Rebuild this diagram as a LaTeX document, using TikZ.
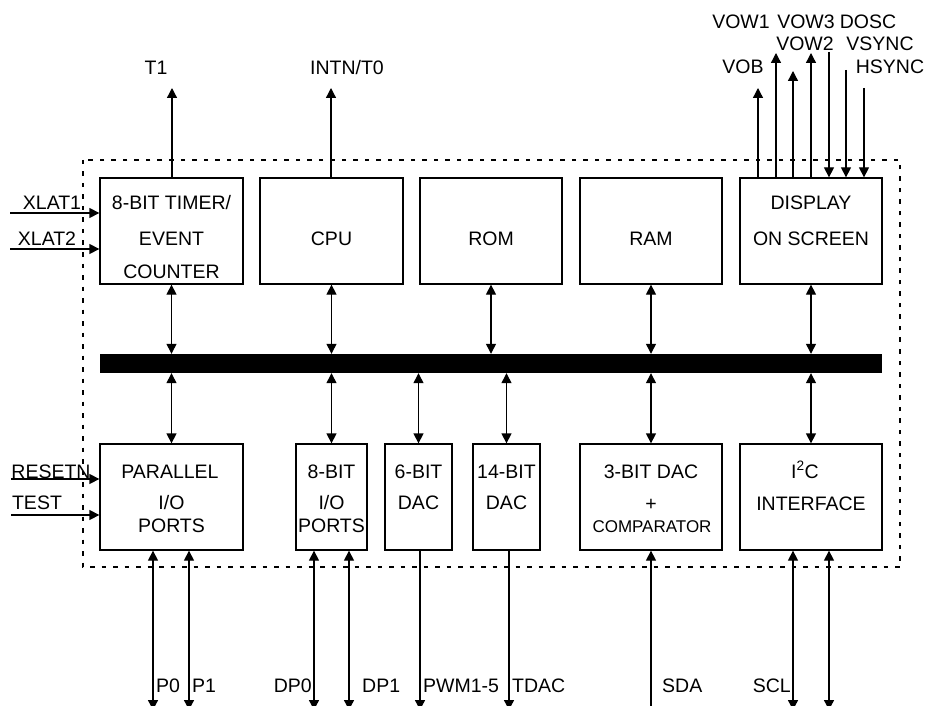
\documentclass[tikz,border=0pt]{standalone}
\usepackage{fontspec}
\setmainfont{Liberation Sans}
\usetikzlibrary{arrows.meta}
\tikzset{
	blk/.style = {draw, line width=1.3pt, inner sep=0pt, minimum height=106pt},
	txt/.style = {font=\fontsize{19.5}{22}\selectfont, inner sep=0pt, text height=14pt, text depth=0pt},
	sml/.style = {font=\fontsize{17}{20}\selectfont, inner sep=0pt, text height=12pt, text depth=0pt},
	arr/.style = {line width=1.3pt, -{Triangle[length=10pt,width=10pt]}},
	darr/.style = {line width=1.3pt, {Triangle[length=10pt,width=10pt]}-{Triangle[length=10pt,width=10pt]}},
	frame/.style = {line width=2pt, dash pattern=on 4.5pt off 7pt}
}

\begin{document}
\begin{tikzpicture}[x=1pt, y=-1pt]
	\useasboundingbox (0,0) rectangle (930,706);
	\draw[frame] (83,160) rectangle (900,567);
	% top row of blocks
	\node[blk, minimum width=143pt] (tmr) at (171.5,231) {};
	\node[blk, minimum width=143pt] (cpu) at (331.5,231) {};
	\node[blk, minimum width=142pt] (rom) at (491,231) {};
	\node[blk, minimum width=142pt] (ram) at (651,231) {};
	\node[blk, minimum width=142pt] (dsp) at (811,231) {};
	% bus
	\node[fill=black, inner sep=0pt, minimum width=782pt, minimum height=19pt] (bus) at (491,363.5) {};
	% bottom row of blocks
	\node[blk, minimum width=143pt] (par) at (171.5,497) {};
	\node[blk, minimum width=71pt] (iop) at (331.5,497) {};
	\node[blk, minimum width=67pt] (dsa) at (418.5,497) {};
	\node[blk, minimum width=67pt] (dsb) at (506.5,497) {};
	\node[blk, minimum width=142pt] (cmp) at (651,497) {};
	\node[blk, minimum width=142pt] (iic) at (811,497) {};
	% block texts
	\node[txt] (tmrA) at (171.5,203) {8-BIT TIMER/};
	\node[txt] (tmrB) at (171.5,238) {EVENT};
	\node[txt] (tmrC) at (171.5,271) {COUNTER};
	\node[txt] (cpuA) at (331.5,238) {CPU};
	\node[txt] (romA) at (491,238) {ROM};
	\node[txt] (ramA) at (651,238) {RAM};
	\node[txt] (dspA) at (811,203) {DISPLAY};
	\node[txt] (dspB) at (811,238) {ON SCREEN};
	\node[txt] (parA) at (170,471) {PARALLEL};
	\node[txt] (parB) at (171.5,502) {I/O};
	\node[txt] (parC) at (171.5,525) {PORTS};
	\node[txt] (iopA) at (331.5,471) {8-BIT};
	\node[txt] (iopB) at (331.5,502) {I/O};
	\node[txt] (iopC) at (331.5,525) {PORTS};
	\node[txt] (dsaA) at (418.5,471) {6-BIT};
	\node[txt] (dsaB) at (418.5,502) {DAC};
	\node[txt] (dsbA) at (506.5,471) {14-BIT};
	\node[txt] (dsbB) at (506.5,502) {DAC};
	\node[txt] (cmpA) at (651,471) {3-BIT DAC};
	\node[txt] (cmpB) at (651,503) {+};
	\node[sml] (cmpC) at (652,526) {COMPARATOR};
	\node[txt] (iicA) at (805,471) {I\textsuperscript{2}C};
	\node[txt] (iicB) at (811,503) {INTERFACE};
	% bus links
	\foreach \b in {tmr,cpu,rom,ram,dsp}
		\draw[darr] (\b.south) -- (\b.south |- bus.north);
	\foreach \b in {par,iop,dsa,dsb,cmp,iic}
		\draw[darr] (bus.south -| \b.north) -- (\b.north);
	% top signals
	\coordinate (t1) at (172,88);
	\coordinate (t0) at (331,88);
	\draw[arr] (tmr.north -| t1) -- (t1);
	\draw[arr] (cpu.north -| t0) -- (t0);
	\node[txt] (t1L) at (156,68) {T1};
	\node[txt] (t0L) at (347,68) {INTN/T0};
	\coordinate (vob) at (758,88);
	\coordinate (vow1) at (776,53);
	\coordinate (vow2) at (793,71);
	\coordinate (vow3) at (811,53);
	\coordinate (dosc) at (829,52);
	\coordinate (vsync) at (846,70);
	\coordinate (hsync) at (864,88);
	\foreach \s in {vob,vow1,vow2,vow3}
		\draw[arr] (dsp.north -| \s) -- (\s);
	\foreach \s in {dosc,vsync,hsync}
		\draw[arr] (\s) -- (dsp.north -| \s);
	\node[txt] (vow1L) at (741,22) {VOW1};
	\node[txt] (vow3L) at (806,22) {VOW3};
	\node[txt] (doscL) at (868,22) {DOSC};
	\node[txt] (vow2L) at (805,44) {VOW2};
	\node[txt] (vsyncL) at (880,44) {VSYNC};
	\node[txt] (vobL) at (743,67) {VOB};
	\node[txt] (hsyncL) at (890,67) {HSYNC};
	% left inputs
	\coordinate (xl1) at (10,213);
	\coordinate (xl2) at (10,249);
	\coordinate (rst) at (11,479);
	\coordinate (tst) at (11,515);
	\draw[arr] (xl1) -- (tmr.west |- xl1);
	\draw[arr] (xl2) -- (tmr.west |- xl2);
	\draw[arr] (rst) -- (par.west |- rst);
	\draw[arr] (tst) -- (par.west |- tst);
	\node[txt] (xl1L) at (52,203) {XLAT1};
	\node[txt] (xl2L) at (47,239) {XLAT2};
	\node[txt] (rstL) at (51,471) {RESETN};
	\node[txt] (tstL) at (37,502) {TEST};
	% bottom pins
	\coordinate (p0) at (153,710);
	\coordinate (p1) at (189,710);
	\coordinate (dp0) at (314,710);
	\coordinate (dp1) at (349,710);
	\coordinate (pwm) at (420,710);
	\coordinate (tdac) at (509,710);
	\coordinate (sda) at (651,706);
	\coordinate (scl) at (793,710);
	\coordinate (sclb) at (829,710);
	\draw[darr] (par.south -| p0) -- (p0);
	\draw[darr] (par.south -| p1) -- (p1);
	\draw[darr] (iop.south -| dp0) -- (dp0);
	\draw[darr] (iop.south -| dp1) -- (dp1);
	\draw[arr] (dsa.south -| pwm) -- (pwm);
	\draw[arr] (dsb.south -| tdac) -- (tdac);
	\draw[arr] (sda) -- (cmp.south -| sda);
	\draw[darr] (iic.south -| scl) -- (scl);
	\draw[darr] (iic.south -| sclb) -- (sclb);
	\node[txt, anchor=west] (p0L) at (156,685) {P0};
	\node[txt, anchor=west] (p1L) at (192,685) {P1};
	\node[txt, anchor=east] (dp0L) at (312,685) {DP0};
	\node[txt, anchor=west] (dp1L) at (362,685) {DP1};
	\node[txt, anchor=west] (pwmL) at (423,685) {PWM1-5};
	\node[txt, anchor=west] (tdacL) at (512,685) {TDAC};
	\node[txt, anchor=west] (sdaL) at (662,685) {SDA};
	\node[txt, anchor=east] (sclL) at (791,685) {SCL};
\end{tikzpicture}
\end{document}
